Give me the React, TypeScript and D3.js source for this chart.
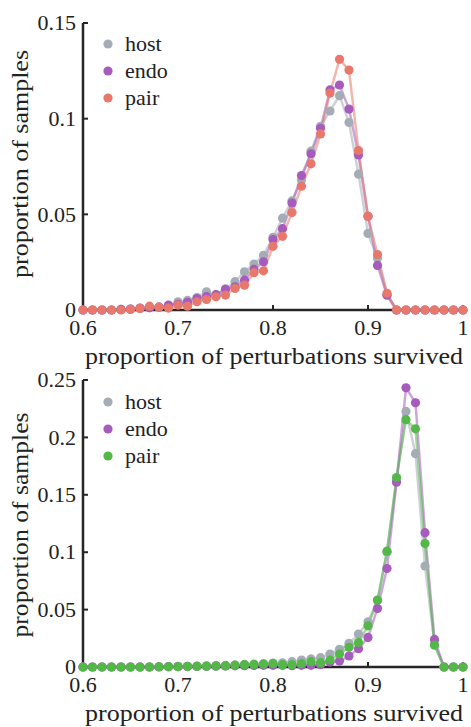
// chart v5 — serif text via Liberation Serif
import React from "react";
import * as d3 from "d3";

const xBins = d3.range(41).map((i) => +(0.6 + i * 0.01).toFixed(2));

const topHost = [0, 0, 0, 0, 0.0003, 0.0005, 0.0008, 0.0012, 0.0015, 0.002,
  0.0043, 0.005, 0.0065, 0.0095, 0.008, 0.011, 0.0148, 0.02, 0.024, 0.0286,
  0.038, 0.048, 0.057, 0.068, 0.083, 0.096, 0.104, 0.112, 0.098, 0.071,
  0.04, 0.027, 0.008, 0, 0, 0, 0, 0, 0, 0, 0];
const topEndo = [0, 0, 0, 0, 0.0003, 0.0005, 0.001, 0.0012, 0.0015, 0.0026,
  0.003, 0.004, 0.006, 0.007, 0.008, 0.0108, 0.0121, 0.0156, 0.0212, 0.0252,
  0.0368, 0.0425, 0.0559, 0.0703, 0.0816, 0.095, 0.115, 0.1176, 0.105, 0.081,
  0.049, 0.0233, 0.0077, 0, 0, 0, 0, 0, 0, 0, 0];
const topPair = [0, 0, 0, 0, 0, 0.0003, 0.0008, 0.002, 0.0015, 0.001,
  0.0026, 0.002, 0.0043, 0.0055, 0.0069, 0.0078, 0.0113, 0.013, 0.0195, 0.0205,
  0.0333, 0.0385, 0.0509, 0.0647, 0.0764, 0.092, 0.1134, 0.131, 0.1254, 0.0833,
  0.049, 0.029, 0.0087, 0, 0, 0, 0, 0, 0, 0, 0];

const botHost = [0, 0, 0, 0, 0, 0, 0, 0, 0.0003, 0.0003,
  0.0005, 0.0006, 0.0008, 0.001, 0.0012, 0.0014, 0.0018, 0.0022, 0.0025, 0.003,
  0.0035, 0.0037, 0.0046, 0.006, 0.007, 0.0081, 0.0113, 0.0154, 0.0206, 0.0287,
  0.0394, 0.058, 0.1, 0.162, 0.2226, 0.1858, 0.088, 0.02, 0, 0, 0];
const botEndo = [0, 0, 0, 0, 0, 0, 0, 0, 0, 0.0002,
  0.0003, 0.0004, 0.0005, 0.0006, 0.0007, 0.0008, 0.001, 0.0012, 0.0013, 0.0015,
  0.0015, 0.0015, 0.0012, 0.0015, 0.0015, 0.002, 0.0043, 0.0052, 0.0096, 0.016,
  0.0258, 0.051, 0.0858, 0.161, 0.2432, 0.2302, 0.117, 0.024, 0, 0, 0];
const botPair = [0, 0, 0, 0, 0, 0, 0, 0, 0.0002, 0.0003,
  0.0004, 0.0005, 0.0006, 0.0007, 0.0008, 0.001, 0.0015, 0.002, 0.0022, 0.0025,
  0.003, 0.002, 0.002, 0.003, 0.0046, 0.0038, 0.0061, 0.0113, 0.0171, 0.0214,
  0.0359, 0.0583, 0.1009, 0.165, 0.2154, 0.2075, 0.1075, 0.019, 0, 0, 0];

const xTicks = [0.6, 0.7, 0.8, 0.9, 1];
const xTickLabels = ["0.6", "0.7", "0.8", "0.9", "1"];
const topYTicks = [0, 0.05, 0.1, 0.15];
const topYTickLabels = ["0", "0.05", "0.1", "0.15"];
const botYTicks = [0, 0.05, 0.1, 0.15, 0.2, 0.25];
const botYTickLabels = ["0", "0.05", "0.1", "0.15", "0.2", "0.25"];
const seriesNames = ["host", "endo", "pair"];

const HOST = "#a4adb5";
const ENDO = "#a65bbd";
const PAIR_TOP = "#e8786b";
const PAIR_BOT = "#54b848";

const AXIS = "#262626";
const txt = (size: number): React.CSSProperties => ({ fontFamily: "Liberation Serif", fontSize: size + "px" });

type PanelProps = {
  y0: number;
  y1: number;
  yMax: number;
  yTicks: number[];
  yTickLabels: string[];
  series: number[][];
  colors: string[];
  legendY: number;
};

function Panel({ y0, y1, yMax, yTicks, yTickLabels, series, colors, legendY }: PanelProps) {
  const x = d3.scaleLinear().domain([0.6, 1]).range([83, 463]);
  const y = d3.scaleLinear().domain([0, yMax]).range([y0, y1]);
  const line = d3
    .line<number>()
    .x((_, i) => x(xBins[i]))
    .y((d) => y(d));
  return (
    <g>
      {series.map((s, si) => (
        <path key={"l" + si} d={line(s) || ""} fill="none" stroke={colors[si]} strokeOpacity={0.55} strokeWidth={2.5} strokeLinejoin="round" />
      ))}
      <line x1={83} x2={463} y1={y0} y2={y0} stroke={AXIS} strokeWidth={2.5} />
      <line x1={83} x2={83} y1={y0 + 1.2} y2={y1} stroke={AXIS} strokeWidth={2.5} />
      {xTicks.map((t, i) => (
        <g key={"xt" + i}>
          <line x1={x(t)} x2={x(t)} y1={y0} y2={y0 - 5} stroke={AXIS} strokeWidth={2} />
          <text x={x(t)} y={y0 + 25} textAnchor="middle" style={txt(22)} fill="#222">
            {xTickLabels[i]}
          </text>
        </g>
      ))}
      {yTicks.map((t, i) => (
        <g key={"yt" + i}>
          <line x1={83} x2={88} y1={y(t)} y2={y(t)} stroke={AXIS} strokeWidth={2} />
          <text x={76} y={y(t)} dy="0.33em" textAnchor="end" style={txt(22)} fill="#222">
            {yTickLabels[i]}
          </text>
        </g>
      ))}
      {series.map((s, si) => (
        <g key={"p" + si}>
          {s.map((v, i) => (
            <circle key={i} cx={x(xBins[i])} cy={y(v)} r={4.6} fill={colors[si]} />
          ))}
        </g>
      ))}
      {seriesNames.map((n, i) => (
        <g key={"lg" + i}>
          <circle cx={108} cy={legendY + i * 27} r={4.6} fill={colors[i]} />
          <text x={125} y={legendY + i * 27} dy="0.3em" style={txt(22)} fill="#222">
            {n}
          </text>
        </g>
      ))}
      <text x={274} y={y0 + 54} textAnchor="middle" style={txt(24)} fill="#222" textLength={378} lengthAdjust="spacingAndGlyphs">
        proportion of perturbations survived
      </text>
    </g>
  );
}

export default function App() {
  return (
    <svg width={471} height={727} style={{ position: "absolute", left: 0, top: 0, background: "#fff" }}>
      <Panel y0={310} y1={23} yMax={0.15} yTicks={topYTicks} yTickLabels={topYTickLabels}
        series={[topHost, topEndo, topPair]} colors={[HOST, ENDO, PAIR_TOP]} legendY={44} />
      <Panel y0={667} y1={380} yMax={0.25} yTicks={botYTicks} yTickLabels={botYTickLabels}
        series={[botHost, botEndo, botPair]} colors={[HOST, ENDO, PAIR_BOT]} legendY={402} />
      <text transform="translate(28,164) rotate(-90)" textAnchor="middle" style={txt(24)} fill="#222" textLength={228} lengthAdjust="spacingAndGlyphs">
        proportion of samples
      </text>
      <text transform="translate(28,525) rotate(-90)" textAnchor="middle" style={txt(24)} fill="#222" textLength={225} lengthAdjust="spacingAndGlyphs">
        proportion of samples
      </text>
    </svg>
  );
}
